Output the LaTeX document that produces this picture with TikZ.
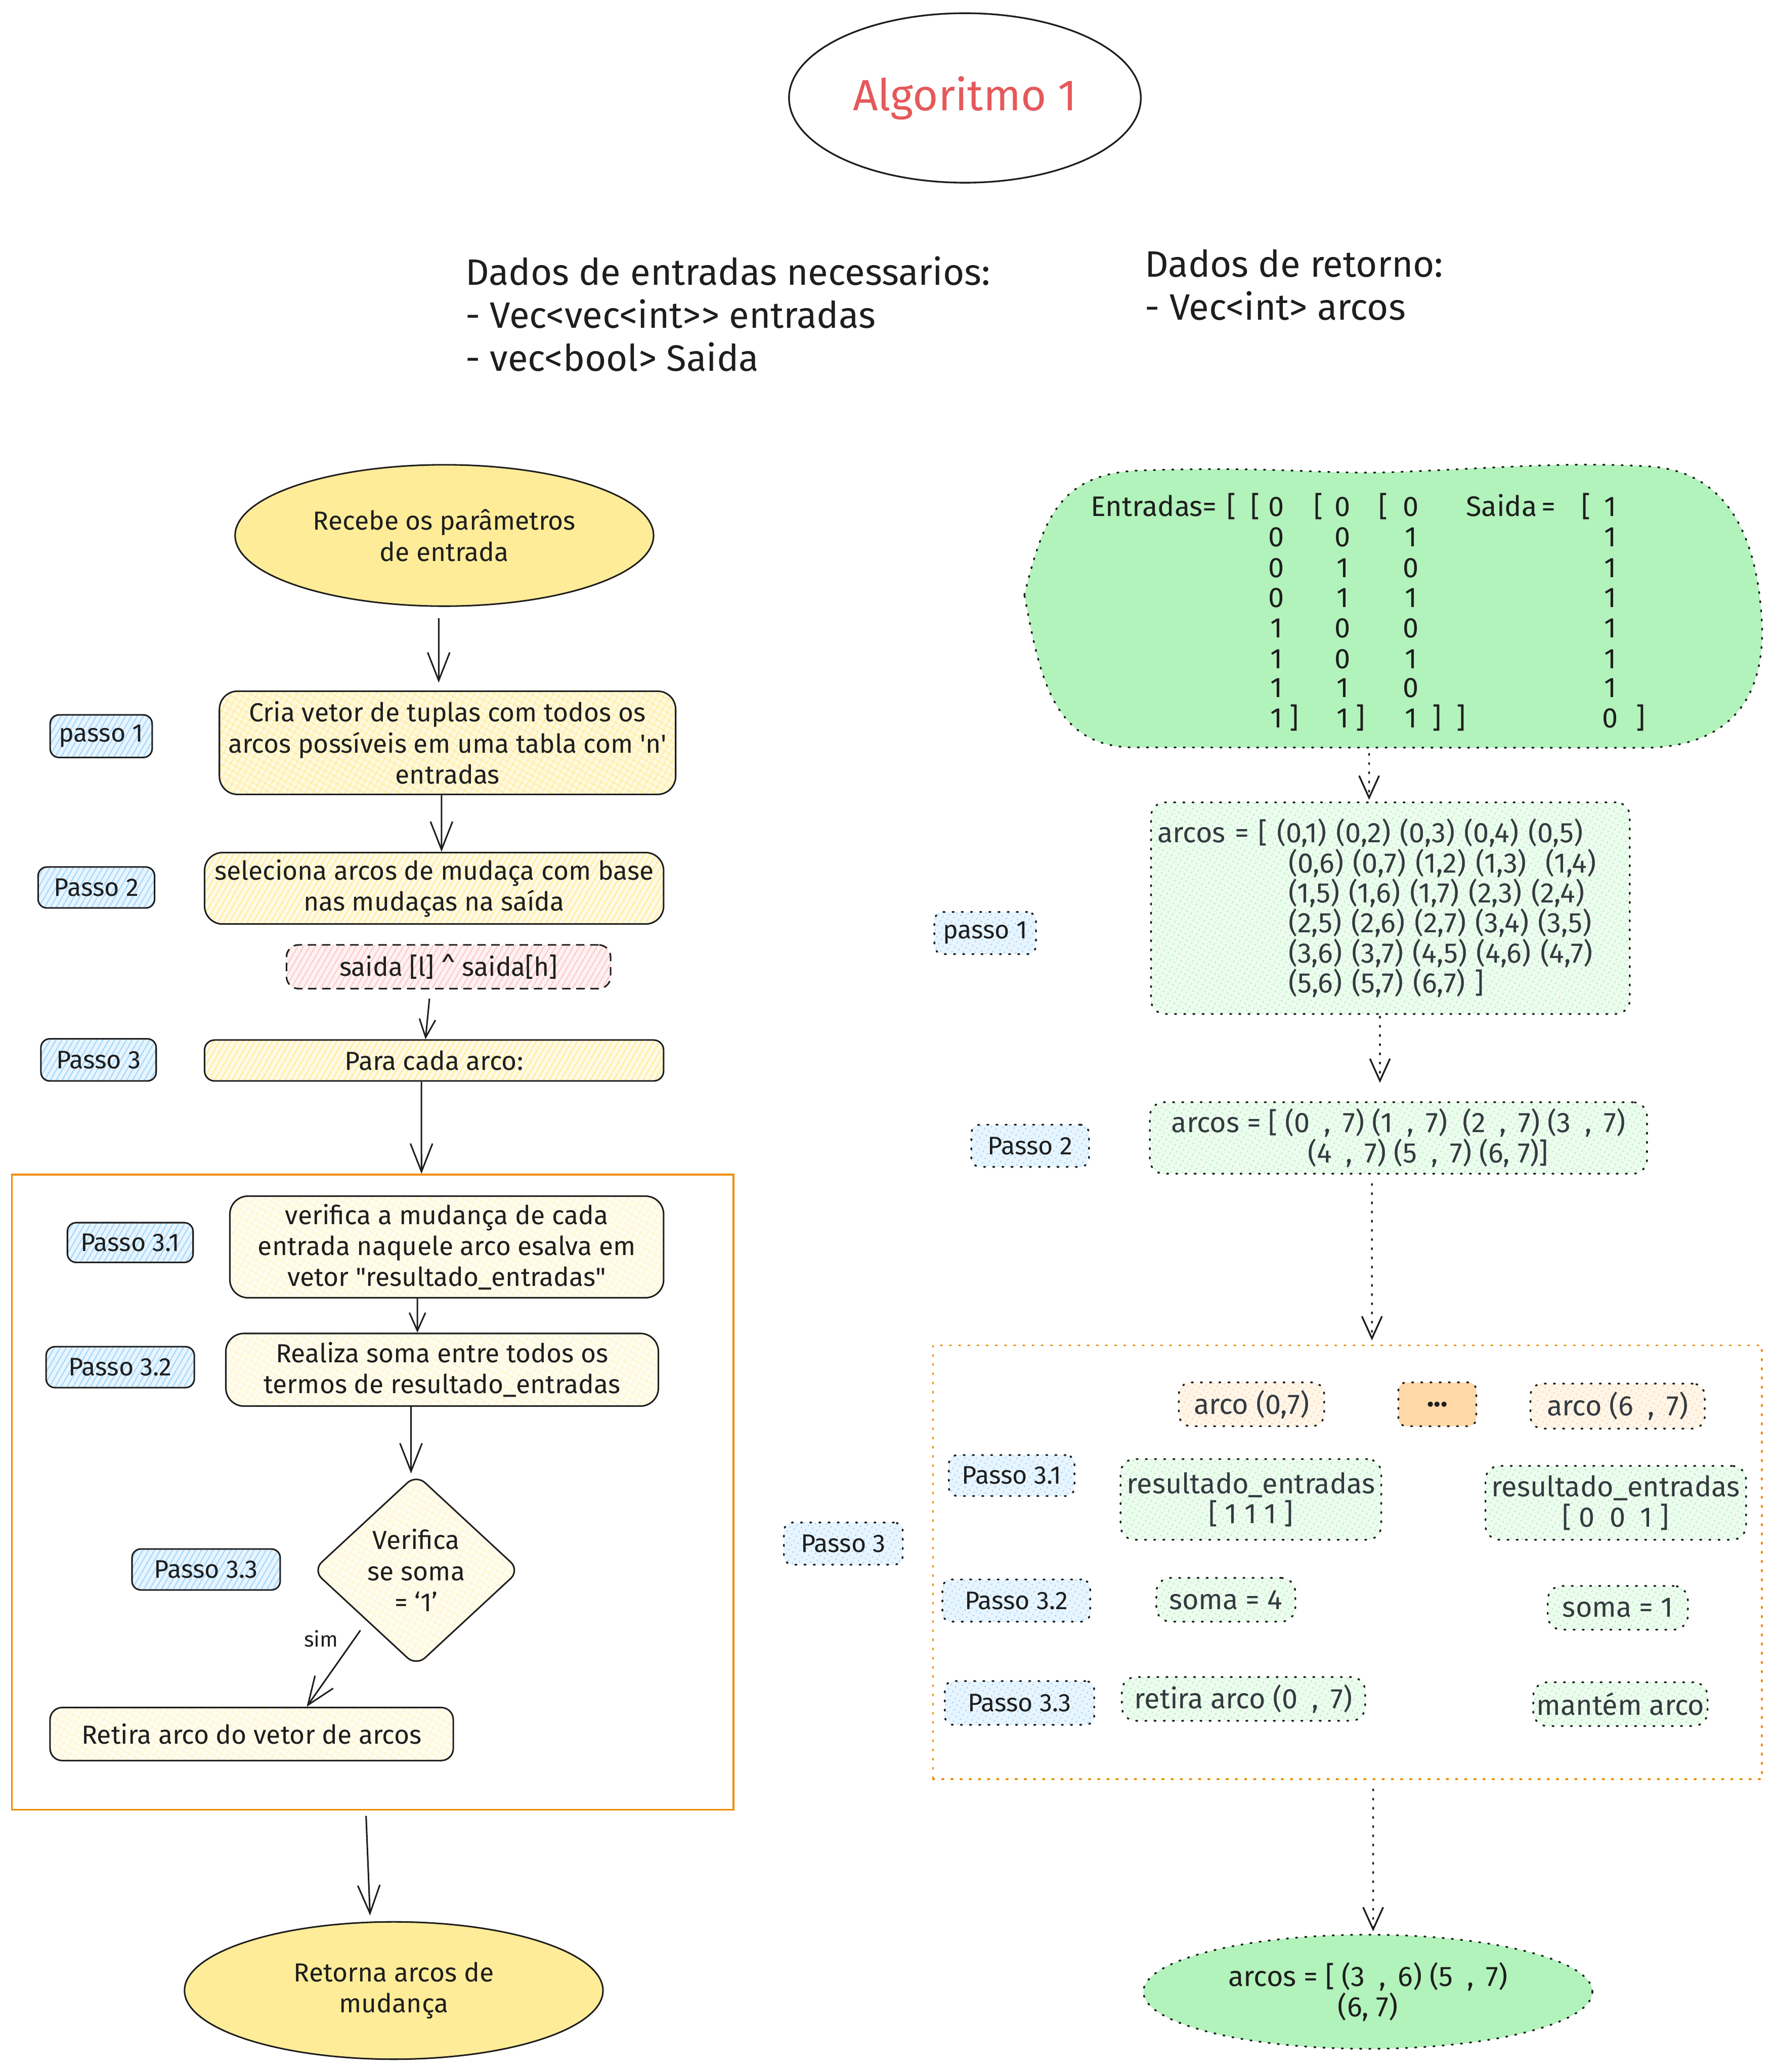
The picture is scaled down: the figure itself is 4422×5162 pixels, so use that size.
\documentclass[tikz,border=0pt]{standalone}
\usepackage{fontspec}
\setmainfont{Fira Sans}
\usetikzlibrary{arrows.meta,shapes.geometric,patterns,patterns.meta,calc}
\definecolor{ink}{HTML}{1E1E1E}
\definecolor{yel}{HTML}{FFEC99}
\definecolor{blu}{HTML}{A5D8FF}
\definecolor{grn}{HTML}{B2F2BB}
\definecolor{pnk}{HTML}{FFC9C9}
\definecolor{org}{HTML}{FFD8A8}
\definecolor{orgline}{HTML}{F08C00}
\definecolor{ttl}{HTML}{E5595B}
\definecolor{gtext}{HTML}{343A40}
\newcommand\bodyf{\fontsize{18.5}{22}\selectfont}
\newcommand\rtf{\fontsize{20}{21.3}\selectfont}
\newcommand\hdrf{\fontsize{26}{30.6}\selectfont}
\newcommand\lblf{\fontsize{18}{21}\selectfont}
\newcommand\cma{\hspace{0.35cm},\hspace{0.3cm}}
\begin{document}
\begin{tikzpicture}[x=0.01cm,y=-0.01cm,
  every node/.style={text=ink, inner sep=0pt},
  hat/.style={preaction={fill=#1!25}, pattern={Lines[angle=60,distance=3.6pt,line width=0.8pt]}, pattern color=#1},
  xhat/.style={preaction={fill=#1!30}, pattern={Hatch[angle=60,distance=4pt,line width=0.7pt]}, pattern color=#1},
  phat/.style={preaction={fill=yel!14}, pattern={Hatch[angle=60,distance=4pt,line width=0.6pt]}, pattern color=yel!55},
  sz/.style 2 args={minimum width=#1cm, minimum height=#2cm},
  sol/.style={draw=ink, line width=1.1pt},
  dotl/.style={line width=1.3pt, line cap=round, dash pattern=on 0.9pt off 5.6pt},
  lblbox/.style={sol, rounded corners=0.22cm, hat=blu, font=\lblf},
  lbldot/.style={draw=ink, dotl, rounded corners=0.22cm, hat=blu, font=\lblf},
  flow/.style={sol, rounded corners=0.45cm, align=center, font=\bodyf},
  gbox/.style={draw=ink, dotl, rounded corners=0.35cm, hat=grn, align=center, font=\rtf, text=gtext},
  obox/.style={draw=ink, dotl, rounded corners=0.3cm, hat=org, align=center, font=\rtf, text=gtext},
  mat/.style={font=\rtf, anchor=base},
  arr/.style={draw=ink, line width=1.1pt, -{Straight Barb[length=0.7cm,width=0.55cm,line width=1.1pt]}},
  sarr/.style={draw=ink, line width=1.1pt, -{Straight Barb[length=0.45cm,width=0.4cm,line width=1.1pt]}},
  darr/.style={draw=ink, dotl, -{Straight Barb[length=0.55cm,width=0.5cm,line width=1.2pt]}}
]
\useasboundingbox (0,0) rectangle (4422,5162);

% ---------- title and headers ----------
\node[draw=ink, line width=1.2pt, ellipse, sz={8.76}{4.22}, text=ttl, font=\fontsize{31}{36}\selectfont] (title) at (2404,244) {Algoritmo 1};
\node[anchor=west, align=left, font=\hdrf] (hin) at (1159,782) {Dados de entradas necessarios:\\- Vec<vec<int>{}> entradas\\- vec<bool> Saida};
\node[anchor=west, align=left, font=\hdrf] (hout) at (2852,710) {Dados de retorno:\\- Vec<int> arcos};

% ---------- left flow ----------
\node[sol, ellipse, sz={10.42}{3.52}, fill=yel, align=center, font=\bodyf] (e1) at (1107,1334) {Recebe os parâmetros\\de entrada};
\node[flow, xhat=yel, sz={11.36}{2.57}] (box1) at (1115,1850.5) {Cria vetor de tuplas com todos os\\arcos possíveis em uma tabla com \textquotesingle n\textquotesingle\\entradas};
\node[lblbox, sz={2.54}{1.06}] (p1) at (252,1834) {passo 1};
\node[flow, hat=yel, sz={11.43}{1.78}] (box2) at (1081.5,2213) {seleciona arcos de mudaça com base\\nas mudaças na saída};
\node[lblbox, sz={2.90}{1.02}] (p2) at (240,2211) {Passo 2};
\node[draw=ink, line width=1.1pt, dash pattern=on 6pt off 4pt, rounded corners=0.3cm, hat=pnk, sz={8.07}{1.09}, font=\bodyf] (red) at (1117.5,2408.5) {saida [l] \textasciicircum\ saida[h]};
\node[flow, hat=yel, sz={11.43}{1.02}, rounded corners=0.25cm] (box3) at (1081.5,2642) {Para cada arco:};
\node[lblbox, sz={2.87}{1.05}] (p3) at (245.5,2640.5) {Passo 3};

\node[draw=orgline, line width=1.3pt, sz={17.97}{15.81}] (cont) at (928.5,3717.5) {};
\node[flow, phat, sz={10.80}{2.53}] (box31) at (1113,3106.5) {verifica a mudança de cada\\entrada naquele arco esalva em\\vetor \textquotedbl resultado\_entradas\textquotedbl};
\node[lblbox, sz={3.13}{0.99}] (p31) at (324.5,3095.5) {Passo 3.1};
\node[flow, phat, sz={10.77}{1.81}] (box32) at (1101.5,3412.5) {Realiza soma entre todos os\\termos de resultado\_entradas};
\node[lblbox, sz={3.69}{1.02}] (p32) at (299.5,3406) {Passo 3.2};
\node[sol, diamond, phat, sz={5.16}{4.78}, rounded corners=0.3cm, align=center, font=\bodyf] (dia) at (1037,3912) {Verifica\\se soma\\= `1'};
\node[lblbox, sz={3.69}{1.02}] (p33) at (513.5,3910) {Passo 3.3};
\node[flow, phat, sz={10.04}{1.32}, rounded corners=0.3cm] (ret) at (627,4320) {Retira arco do vetor de arcos};
\node[sol, ellipse, sz={10.42}{3.42}, fill=yel, align=center, font=\bodyf] (e2) at (981,4959) {Retorna arcos de\\mudança};
\node[font=\fontsize{15}{18}\selectfont] (sim) at (800,4082) {sim};

\draw[arr] ([xshift=-0.14cm,yshift=-0.28cm]e1.south) -- ([xshift=-0.22cm,yshift=0.2cm]box1.north);
\draw[arr] ([xshift=-0.15cm]box1.south) -- ([xshift=0.185cm]box2.north);
\draw[sarr] ([xshift=-0.475cm,yshift=-0.23cm]red.south) -- ([xshift=-0.215cm]box3.north);
\draw[arr] ([xshift=-0.315cm]box3.south) -- ([xshift=1.215cm]cont.north);
\draw[sarr] ([xshift=-0.73cm]box31.south) -- ([xshift=-0.615cm]box32.north);
\draw[arr] ([xshift=-0.775cm]box32.south) -- ([xshift=-0.13cm]dia.north);
\draw[arr] ([xshift=-0.09cm,yshift=-0.29cm]dia.south west) -- ([xshift=1.37cm]ret.north);
\draw[arr] ([xshift=-0.165cm,yshift=-0.13cm]cont.south) -- ([xshift=-0.59cm,yshift=0.14cm]e2.north);

% ---------- right side ----------
\draw[draw=ink, dotl, fill=grn] (2552,1482) .. controls (2600,1290) and (2640,1180) .. (2840,1172) .. controls (3200,1160) and (3300,1185) .. (3500,1175) .. controls (3750,1165) and (3900,1150) .. (4110,1162) .. controls (4300,1175) and (4380,1330) .. (4390,1560) .. controls (4395,1760) and (4290,1860) .. (4100,1863) -- (2820,1862) .. controls (2620,1858) and (2590,1680) .. (2552,1482) -- cycle;
\node[sz={18.4}{7.05}] (blob) at (3472,1511.5) {};

\node[mat, anchor=base west] (lab1) at (2717,1286) {Entradas=};
\node[mat] (bo1) at (3068,1286) {[};
\node[mat] (bo2) at (3127,1286) {[};
\node[mat] (bo3) at (3285,1286) {[};
\node[mat] (bo4) at (3446,1286) {[};
\node[mat, anchor=base west] (lab2) at (3652,1286) {Saida};
\node[mat] (eq2) at (3858,1286) {=};
\node[mat] (bo5) at (3952,1286) {[};
\foreach \yy/\a/\b/\c/\s [count=\i] in {1261/0/0/0/1,1337/0/0/1/1,1413/0/1/0/1,1488/0/1/1/1,1564/1/0/0/1,1640/1/0/1/1,1712/1/1/0/1,1788/1/1/1/0}{
  \node[mat] (ma\i) at (3180,\yy+25) {\a};
  \node[mat] (mb\i) at (3345,\yy+25) {\b};
  \node[mat] (mc\i) at (3515,\yy+25) {\c};
  \node[mat] (ms\i) at (4012,\yy+25) {\s};
}
\node[mat] (bc1) at (3224,1813) {]};
\node[mat] (bc2) at (3389,1813) {]};
\node[mat] (bc3) at (3580,1813) {]};
\node[mat] (bc4) at (3640,1813) {]};
\node[mat] (bc5) at (4088,1813) {]};

\node[gbox, sz={11.92}{5.27}, text width=11.6cm, align=left] (arc1) at (3464,2262.5) {arcos = [ (0,1) (0,2) (0,3) (0,4) (0,5)\\\hspace*{3.26cm}(0,6) (0,7) (1,2) (1,3) \ (1,4)\\\hspace*{3.26cm}(1,5) (1,6) (1,7) (2,3) (2,4)\\\hspace*{3.26cm}(2,5) (2,6) (2,7) (3,4) (3,5)\\\hspace*{3.26cm}(3,6) (3,7) (4,5) (4,6) (4,7)\\\hspace*{3.26cm}(5,6) (5,7) (6,7) ]};
\node[lbldot, sz={2.53}{1.05}] (rp1) at (2454.5,2324.5) {passo 1};
\node[gbox, sz={12.38}{1.78}] (arc2) at (3484,2835) {arcos = [ (0\cma7) (1\cma7) \ (2\cma7) (3\cma7)\\\hspace*{1.48cm}(4\cma7) (5\cma7) (6, 7)]};
\node[lbldot, sz={2.93}{1.05}] (rp2) at (2566.5,2854.5) {Passo 2};

\node[draw=orgline, dotl, sz={20.64}{10.80}] (cont2) at (3357,3892) {};
\node[obox, sz={3.62}{1.09}] (a07) at (3118,3498.5) {arco (0,7)};
\node[draw=ink, dotl, fill=org, rounded corners=0.2cm, sz={1.94}{1.09}, font=\bfseries\rtf] (dots) at (3581,3498.5) {...};
\node[obox, sz={4.34}{1.12}] (a67) at (4030,3503) {arco (6\cma7)};
\node[lbldot, sz={3.13}{1.02}] (rp31) at (2520.5,3676) {Passo 3.1};
\node[gbox, sz={6.49}{2.01}] (res1) at (3116.5,3735.5) {resultado\_entradas\\{[} 1 1 1 ]};
\node[gbox, sz={6.49}{1.84}] (res2) at (4025.5,3744) {resultado\_entradas\\{[} 0 \ 0 \ 1 ]};
\node[lbldot, sz={2.96}{1.05}] (rp3) at (2101,3845.5) {Passo 3};
\node[lbldot, sz={3.68}{1.05}] (rp32) at (2532,3987.5) {Passo 3.2};
\node[gbox, sz={3.46}{1.09}] (s4) at (3054,3985.5) {soma = 4};
\node[gbox, sz={3.49}{1.09}] (s1) at (4030.5,4005.5) {soma = 1};
\node[lbldot, sz={3.72}{1.09}] (rp33) at (2540,4242.5) {Passo 3.3};
\node[gbox, sz={6.06}{1.09}] (r07) at (3098,4232.5) {retira arco (0\cma7)};
\node[gbox, sz={4.34}{1.09}] (mant) at (4037,4245.5) {mantém arco};

\node[draw=ink, dotl, fill=grn, ellipse, sz={11.18}{2.84}, align=center, font=\rtf] (fin) at (3408,4962) {arcos = [ (3\cma6) (5\cma7)\\(6, 7)};

\draw[darr] ([xshift=-0.61cm,yshift=-0.13cm]blob.south) -- ([xshift=-0.53cm,yshift=0.04cm]arc1.north);
\draw[darr] ([xshift=-0.26cm,yshift=-0.04cm]arc1.south) -- ([xshift=-0.46cm,yshift=0.46cm]arc2.north);
\draw[darr] ([xshift=-0.66cm,yshift=-0.23cm]arc2.south) -- ([xshift=0.61cm,yshift=0.10cm]cont2.north);
\draw[darr] ([xshift=0.64cm,yshift=-0.23cm]cont2.south) -- ([xshift=0.13cm,yshift=0.06cm]fin.north);
\end{tikzpicture}
\end{document}
